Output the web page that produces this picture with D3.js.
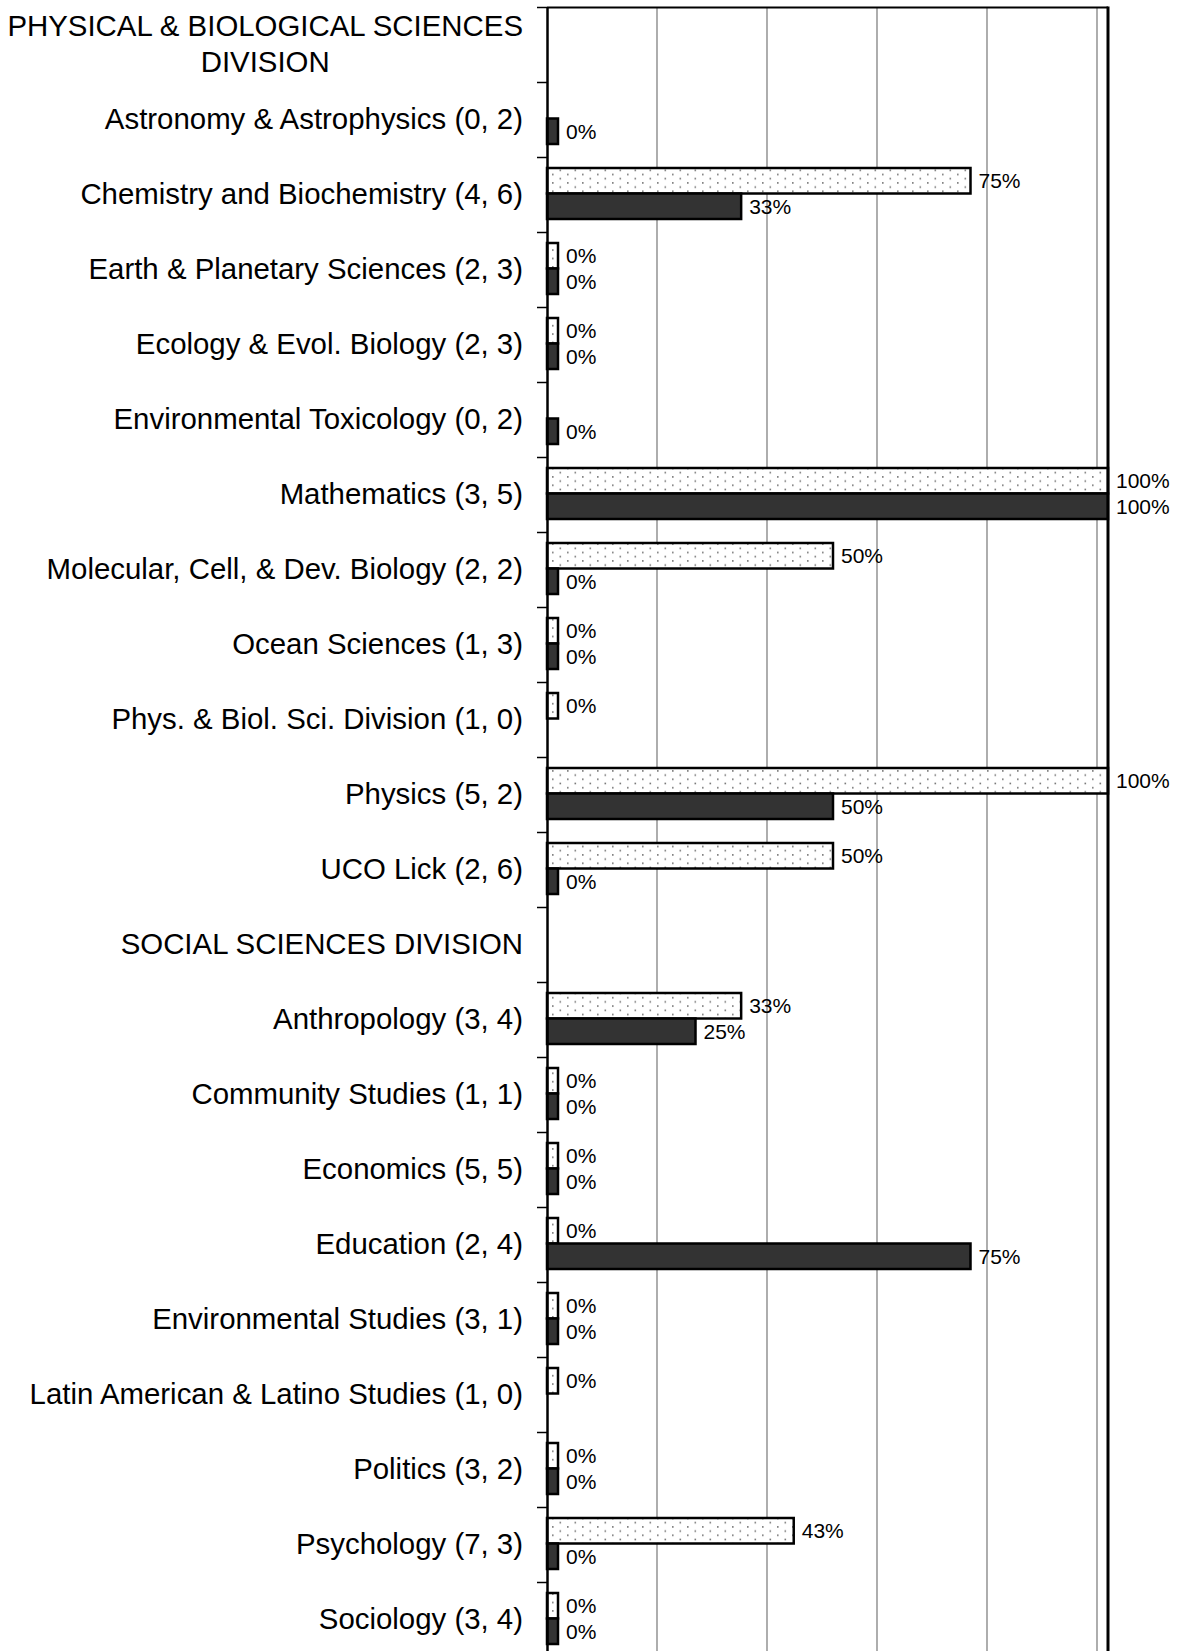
<!DOCTYPE html>
<html><head><meta charset="utf-8">
<script src="https://cdn.jsdelivr.net/npm/d3@7"></script>
<style>
html,body{margin:0;padding:0;background:#fff;}
svg{display:block;}
text{font-family:"Liberation Sans",Arial,sans-serif;fill:#000;}
</style></head>
<body>
<svg id="chart" width="1186" height="1651"></svg>
<script>
// Category labels (one row each; division headers have no bars)
const categories = [
  "PHYSICAL & BIOLOGICAL SCIENCES DIVISION",
  "Astronomy & Astrophysics (0, 2)",
  "Chemistry and Biochemistry (4, 6)",
  "Earth & Planetary Sciences (2, 3)",
  "Ecology & Evol. Biology (2, 3)",
  "Environmental Toxicology (0, 2)",
  "Mathematics (3, 5)",
  "Molecular, Cell, & Dev. Biology (2, 2)",
  "Ocean Sciences (1, 3)",
  "Phys. & Biol. Sci. Division (1, 0)",
  "Physics (5, 2)",
  "UCO Lick (2, 6)",
  "SOCIAL SCIENCES DIVISION",
  "Anthropology (3, 4)",
  "Community Studies (1, 1)",
  "Economics (5, 5)",
  "Education (2, 4)",
  "Environmental Studies (3, 1)",
  "Latin American & Latino Studies (1, 0)",
  "Politics (3, 2)",
  "Psychology (7, 3)",
  "Sociology (3, 4)"
];
// First series (dotted bars); null = no bar
const seriesA = [null, null, 0.75, 0, 0, null, 1.0, 0.5, 0, 0, 1.0, 0.5,
                 null, 0.333, 0, 0, 0, 0, 0, 0, 0.4286, 0];
// Second series (dark bars); null = no bar
const seriesB = [null, 0, 0.333, 0, 0, 0, 1.0, 0, 0, null, 0.5, 0,
                 null, 0.25, 0, 0, 0.75, 0, null, 0, 0, 0];
const gridTicks = [0.2, 0.4, 0.6, 0.8, 1.0];
const barOffset = 0.02; // zero values still drawn as a small stub

(function(){
const svg = d3.select("#chart");
const pLeft = 547, pRight = 1108, pTop = 7.5, step = 75;
const pBottom = pTop + step * categories.length;

const x = d3.scaleLinear().domain([0, 1.02]).range([pLeft, pRight]);
const y = d3.scaleBand().domain(d3.range(categories.length)).range([pTop, pBottom]).paddingInner(0).paddingOuter(0);

const defs = svg.append("defs");
const pat = defs.append("pattern").attr("id","dots").attr("patternUnits","userSpaceOnUse")
  .attr("width",15).attr("height",8.4);
pat.append("rect").attr("width",15).attr("height",8.4).attr("fill","#fff");
pat.append("rect").attr("x",4.5).attr("y",1.5).attr("width",1.6).attr("height",1.6).attr("fill","#777");
pat.append("rect").attr("x",12).attr("y",5.7).attr("width",1.6).attr("height",1.6).attr("fill","#777");

// gridlines
svg.append("g").selectAll("line").data(gridTicks).join("line")
  .attr("x1", d=>x(d)).attr("x2", d=>x(d)).attr("y1", pTop).attr("y2", pBottom)
  .attr("stroke","#777").attr("stroke-width",1.2);

const barH = 25.5;
const rows = d3.range(categories.length);
const gA = svg.append("g"), gB = svg.append("g");
rows.forEach(i => {
  const c = y(i) + y.bandwidth()/2 - 1.5;
  if (seriesA[i] !== null) {
    gA.append("rect").attr("x", pLeft).attr("y", c - barH)
      .attr("width", x(seriesA[i] + barOffset) - pLeft).attr("height", barH)
      .attr("fill","url(#dots)").attr("stroke","#000").attr("stroke-width",2.5);
    gA.append("text").attr("x", x(seriesA[i] + barOffset) + 8).attr("y", c - barH/2)
      .attr("dy","0.36em").attr("font-size",21).text(Math.round(seriesA[i]*100) + "%");
  }
  if (seriesB[i] !== null) {
    gB.append("rect").attr("x", pLeft).attr("y", c)
      .attr("width", x(seriesB[i] + barOffset) - pLeft).attr("height", barH)
      .attr("fill","#333").attr("stroke","#000").attr("stroke-width",2.5);
    gB.append("text").attr("x", x(seriesB[i] + barOffset) + 8).attr("y", c + barH/2)
      .attr("dy","0.36em").attr("font-size",21).text(Math.round(seriesB[i]*100) + "%");
  }
});

// frame
svg.append("line").attr("x1",pLeft).attr("x2",pRight).attr("y1",pTop).attr("y2",pTop).attr("stroke","#000").attr("stroke-width",2);
svg.append("line").attr("x1",pRight).attr("x2",pRight).attr("y1",pTop-1).attr("y2",pBottom).attr("stroke","#000").attr("stroke-width",3);

// left axis with ticks at band boundaries
const axis = d3.axisLeft(y).tickSize(0).tickFormat("");
const gAxis = svg.append("g").attr("transform",`translate(${pLeft},0)`).call(axis);
gAxis.select(".domain").attr("stroke","#000").attr("stroke-width",2.5);
svg.append("g").selectAll("line").data(d3.range(categories.length+1)).join("line")
  .attr("x1", pLeft - 10).attr("x2", pLeft).attr("y1", d=>pTop + d*step).attr("y2", d=>pTop + d*step)
  .attr("stroke","#000").attr("stroke-width",1.5);

// category labels
const labX = 523;
const fs = 29.4;
const lab = svg.append("g");
rows.forEach(i => {
  const c = y(i) + y.bandwidth()/2;
  const name = categories[i];
  if (i === 0) {
    const t = lab.append("text").attr("font-size",fs).attr("text-anchor","middle");
    const l1 = t.append("tspan").text("PHYSICAL & BIOLOGICAL SCIENCES");
    const w = l1.node().getComputedTextLength();
    l1.attr("x", labX - w/2).attr("y", c - 18).attr("dy","0.29em");
    t.append("tspan").attr("x", labX - w/2).attr("y", c + 18).attr("dy","0.29em").text("DIVISION");
  } else {
    lab.append("text").attr("x", labX).attr("y", c).attr("dy","0.29em")
      .attr("text-anchor","end").attr("font-size",fs).text(name);
  }
});
})();
</script>
</body></html>
